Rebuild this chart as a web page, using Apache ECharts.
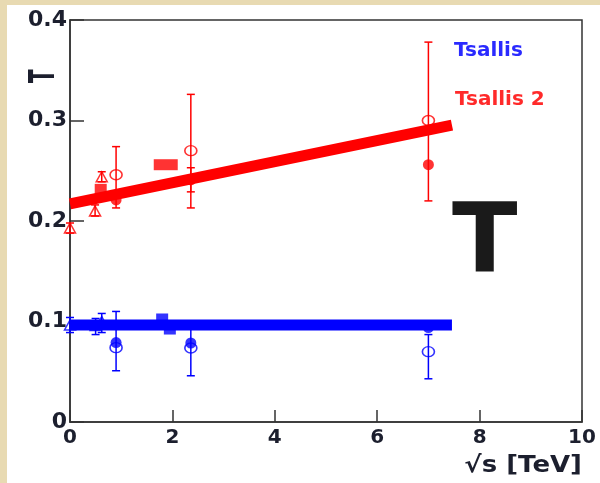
<!DOCTYPE html>
<html>
<head>
<meta charset="utf-8">
<script src="https://cdn.jsdelivr.net/npm/echarts@6/dist/echarts.min.js"></script>
<style>
html,body{margin:0;padding:0;background:#e8dab2;}
#c{width:600px;height:483px;}
</style>
</head>
<body>
<div id="c"></div>
<script>
// ---- data ----
var xTicks = [0, 2, 4, 6, 8, 10];
var yTicks = [0, 0.1, 0.2, 0.3, 0.4];

// fit lines [x, T]
var redFit = [[0, 0.217], [7.46, 0.2955]];
var blueFit = [[0, 0.0965], [7.46, 0.0965]];

// Tsallis 2 (red) points
var redOpenCircles = [[0.9, 0.246], [2.36, 0.270], [7.0, 0.300]];
var redFilledCircles = [[0.9, 0.221], [2.36, 0.241], [7.0, 0.256]];
var redTriangles = [[0.0, 0.193], [0.49, 0.210], [0.62, 0.244]];
var redSquares = [[0.6, 0.231]];
var redWideRect = [[1.87, 0.256]];
// error bars [x, low, high]
var redErrors = [[0.0, 0.188, 0.198], [0.49, 0.205, 0.216], [0.62, 0.239, 0.249],
                 [0.9, 0.213, 0.274], [2.36, 0.213, 0.326], [2.36, 0.229, 0.253],
                 [7.0, 0.220, 0.378]];

// Tsallis (blue) points
var blueOpenCircles = [[0.9, 0.074], [2.36, 0.0736], [7.0, 0.070]];
var blueFilledCircles = [[0.9, 0.079], [2.36, 0.0786], [7.0, 0.094]];
var blueTriangles = [[0.0, 0.0965], [0.5, 0.096], [0.62, 0.100]];
var blueSquares = [[1.8, 0.102], [1.95, 0.093]];
var blueErrors = [[0.0, 0.089, 0.104], [0.5, 0.087, 0.103], [0.62, 0.089, 0.108],
                  [0.9, 0.051, 0.110], [2.36, 0.046, 0.095], [7.0, 0.043, 0.087]];

var RED = '#ff0000', BLUE = '#0000ff';

function errSeries(data, color) {
  return {
    type: 'custom', data: data, z: 3,
    renderItem: function (params, api) {
      var x = api.value(0), lo = api.value(1), hi = api.value(2);
      var p1 = api.coord([x, lo]), p2 = api.coord([x, hi]);
      var w = 4;
      var st = { stroke: color, lineWidth: 1.5 };
      return {
        type: 'group',
        children: [
          { type: 'line', shape: { x1: p1[0], y1: p1[1], x2: p2[0], y2: p2[1] }, style: st },
          { type: 'line', shape: { x1: p1[0] - w, y1: p1[1], x2: p1[0] + w, y2: p1[1] }, style: st },
          { type: 'line', shape: { x1: p2[0] - w, y1: p2[1], x2: p2[0] + w, y2: p2[1] }, style: st }
        ]
      };
    }
  };
}
function scat(data, symbol, size, color, open) {
  return {
    type: 'scatter', data: data, symbol: symbol, symbolSize: size, z: 4,
    itemStyle: open ? { color: 'rgba(0,0,0,0)', borderColor: color, borderWidth: 1.5 }
                    : { color: color },
    emphasis: { disabled: true }
  };
}
function fit(data, color) {
  return {
    type: 'line', data: data, symbol: 'none', z: 5,
    lineStyle: { color: color, width: 11, cap: 'butt' }
  };
}

var chart = echarts.init(document.getElementById('c'));
var FONT = '"DejaVu Sans"';
var lab = { fontFamily: 'DejaVu Sans', fontWeight: 'bold', color: '#1c1f2e' };
chart.setOption({
  animation: false,
  backgroundColor: 'transparent',
  grid: { left: 70, right: 18, top: 20, bottom: 61, show: true, borderColor: '#333', borderWidth: 1.5, backgroundColor: 'transparent' },
  xAxis: {
    type: 'value', min: xTicks[0], max: xTicks[xTicks.length - 1], interval: 2,
    axisLine: { lineStyle: { color: '#333', width: 1.5 } },
    axisTick: { inside: true, length: 12, lineStyle: { color: '#333', width: 1.5 } },
    splitLine: { show: false },
    axisLabel: Object.assign({ margin: 6, fontSize: 20 }, lab)
  },
  yAxis: {
    type: 'value', min: yTicks[0], max: yTicks[yTicks.length - 1], interval: 0.1,
    axisLine: { show: true, lineStyle: { color: '#333', width: 1.5 } },
    axisTick: { show: true, inside: true, length: 14, lineStyle: { color: '#333', width: 1.5 } },
    splitLine: { show: false },
    axisLabel: Object.assign({ margin: 3, fontSize: 22, formatter: function (v) { return v === 0 ? '0' : v.toFixed(1); } }, lab)
  },
  graphic: [
    { type: 'rect', z: -10, silent: true, shape: { x: 7, y: 5, width: 593, height: 478 }, style: { fill: '#ffffff' } },
    { type: 'text', left: 454, top: 41, silent: true, style: { text: 'Tsallis', fill: '#2a2aff', font: 'bold 20px ' + FONT } },
    { type: 'text', left: 455, top: 90, silent: true, style: { text: 'Tsallis 2', fill: '#ff2a2a', font: 'bold 20px ' + FONT } },
    { type: 'text', left: 452, top: 199, silent: true, style: { text: 'T', fill: '#1a1a1a', font: 'bold 96px ' + FONT } },
    { type: 'text', x: 27, y: 83, rotation: Math.PI / 2, scaleY: 1.8, silent: true, style: { text: 'T', fill: '#1c1f2e', font: 'bold 20px ' + FONT } },
    { type: 'text', x: 582, y: 466, scaleX: 1.13, silent: true, style: { text: '\u221As [TeV]', fill: '#1c1f2e', font: 'bold 23px ' + FONT, textAlign: 'right', textVerticalAlign: 'middle' } }
  ],
  series: [
    errSeries(redErrors, RED),
    errSeries(blueErrors, BLUE),
    scat(redOpenCircles, 'circle', [12, 10], RED, true),
    scat(redFilledCircles, 'circle', 11, RED, false),
    scat(redTriangles, 'triangle', [11, 10], RED, true),
    scat(redSquares, 'rect', 12, RED, false),
    scat(redWideRect, 'rect', [24, 11], RED, false),
    scat(blueOpenCircles, 'circle', [12, 10], BLUE, true),
    scat(blueFilledCircles, 'circle', 11, BLUE, false),
    scat(blueTriangles, 'triangle', [11, 10], BLUE, true),
    scat(blueSquares, 'rect', 12, BLUE, false),
    fit(redFit, RED),
    fit(blueFit, BLUE)
  ]
});
</script>
</body>
</html>
